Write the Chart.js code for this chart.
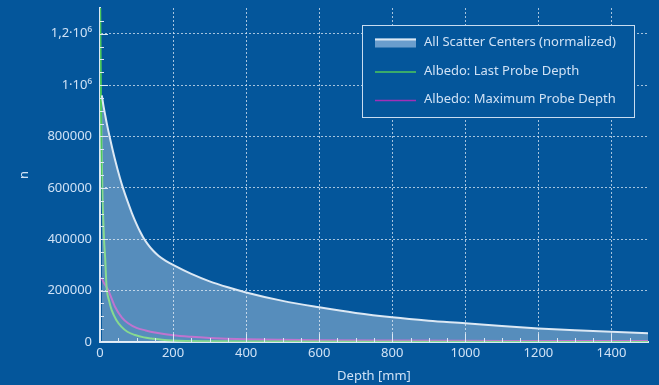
<!DOCTYPE html>
<html lang="en">
<head>
<meta charset="UTF-8">
<title>Depth</title>
<style>
    html, body {
        margin: 0;
        padding: 0;
        background: #04569b;
    }
    .wrap {
        width: 659px;
        height: 385px;
    }
</style>
<script src="https://cdn.jsdelivr.net/npm/chart.js"></script>
</head>
<body>
<div class="wrap"><canvas id="chart" width="659" height="385"></canvas></div>
<script>
// values
const scatterX = [5, 10, 14, 18, 27, 41, 55, 63, 75, 87, 100, 110, 118, 130, 145, 160, 180, 200, 250, 300, 350, 400, 500, 600, 700, 800, 900, 1000, 1100, 1200, 1300, 1400, 1500];
const scatterY = [960000, 915000, 885000, 855000, 795000, 710000, 636000, 599000, 549000, 503000, 459000, 429000, 408000, 382000, 356000, 336000, 316000, 300000, 265000, 236000, 213000, 193000, 160000, 135000, 113000, 96000, 83000, 73000, 62000, 53000, 46000, 40000, 34000];

const lastX = [0, 3, 5, 7, 9, 11, 14, 18, 25, 32, 45, 59, 75, 96, 120, 141, 170, 200, 300, 500, 800, 1500];
const lastY = [1400000, 900000, 700000, 560000, 474000, 400000, 330000, 215000, 160000, 124000, 85000, 59000, 40000, 27000, 18000, 14000, 9000, 6000, 3000, 1500, 800, 300];

const maxX = [2, 5, 10, 23, 41, 60, 77, 100, 125, 150, 200, 250, 300, 400, 500, 600, 800, 1000, 1200, 1500];
const maxY = [250000, 245000, 232000, 200000, 137000, 95000, 73000, 55000, 45000, 37000, 26000, 20000, 16000, 11000, 8500, 7000, 5500, 4500, 4000, 3500];

const xTicks = [0, 200, 400, 600, 800, 1000, 1200, 1400];
const yTicks = [0, 200000, 400000, 600000, 800000, 1000000, 1200000];

const legendLabels = ['All Scatter Centers (normalized)', 'Albedo: Last Probe Depth', 'Albedo: Maximum Probe Depth'];
const seriesColors = ['#dce8f4', '#4cc85a', '#a030b8'];

const textColor = '#cfe1f5';
const fontFamily = '"Noto Sans", "DejaVu Sans", sans-serif';
const fontSize = 13;

function points(xs, ys) {
    return xs.map((x, i) => ({ x: x, y: ys[i] }));
}

function yLabel(v) {
    if (v === 1000000) return '1·10⁶';
    if (v === 1200000) return '1,2·10⁶';
    return String(v);
}

// small inward ticks on both axes, plus the legend box
const decorations = {
    id: 'decorations',
    afterDatasetsDraw(chart) {
        const ctx = chart.ctx;
        const area = chart.chartArea;
        const xs = chart.scales.x;
        const ys = chart.scales.y;
        ctx.save();
        ctx.strokeStyle = '#dce8f4';
        ctx.lineWidth = 1;
        for (let v = 50; v < 1500; v += 50) {
            const px = Math.round(xs.getPixelForValue(v)) + 0.5;
            const len = v % 200 === 0 ? 8 : 4;
            ctx.beginPath();
            ctx.moveTo(px, area.bottom);
            ctx.lineTo(px, area.bottom - len);
            ctx.stroke();
        }
        for (let v = 50000; v < 1300000; v += 50000) {
            const py = Math.round(ys.getPixelForValue(v)) + 0.5;
            const len = v % 200000 === 0 ? 8 : 4;
            ctx.beginPath();
            ctx.moveTo(area.left, py);
            ctx.lineTo(area.left + len, py);
            ctx.stroke();
        }

        // legend
        const bx = 362.5, by = 25.5, bw = 272, bh = 92;
        ctx.fillStyle = '#04569b';
        ctx.fillRect(bx, by, bw, bh);
        ctx.strokeStyle = '#c8dcf0';
        ctx.strokeRect(bx, by, bw, bh);
        ctx.font = fontSize + 'px ' + fontFamily;
        ctx.textBaseline = 'middle';
        ctx.textAlign = 'left';
        const rows = [42.5, 71, 99.5];
        rows.forEach((ry, i) => {
            if (i === 0) {
                ctx.fillStyle = '#6a9dcd';
                ctx.fillRect(375, ry - 4, 41, 9);
                ctx.fillStyle = '#dce8f4';
                ctx.fillRect(375, ry - 4, 41, 2);
            } else {
                ctx.strokeStyle = seriesColors[i];
                ctx.lineWidth = 1.5;
                ctx.beginPath();
                ctx.moveTo(375, ry + 1);
                ctx.lineTo(416, ry + 1);
                ctx.stroke();
            }
            ctx.fillStyle = textColor;
            ctx.fillText(legendLabels[i], 424, ry);
        });
        ctx.restore();
    }
};

const gridColor = (c) => (c.tick && c.tick.value === 0) ? 'rgba(0,0,0,0)' : 'rgba(220,232,244,0.75)';

new Chart(document.getElementById('chart').getContext('2d'), {
    type: 'scatter',
    data: {
        datasets: [
            {
                label: legendLabels[0],
                data: points(scatterX, scatterY),
                showLine: true,
                borderColor: seriesColors[0],
                borderWidth: 2,
                backgroundColor: 'rgba(255,255,255,0.33)',
                fill: 'origin',
                pointRadius: 0,
                cubicInterpolationMode: 'monotone'
            },
            {
                label: legendLabels[1],
                data: points(lastX, lastY),
                showLine: true,
                borderColor: seriesColors[1],
                borderWidth: 2,
                fill: false,
                pointRadius: 0,
                cubicInterpolationMode: 'monotone'
            },
            {
                label: legendLabels[2],
                data: points(maxX, maxY),
                showLine: true,
                borderColor: seriesColors[2],
                borderWidth: 2,
                fill: false,
                pointRadius: 0,
                cubicInterpolationMode: 'monotone'
            }
        ]
    },
    options: {
        responsive: false,
        animation: false,
        layout: { padding: { top: 8, right: 11, left: 0, bottom: 0 } },
        plugins: {
            legend: { display: false },
            tooltip: { enabled: false }
        },
        scales: {
            x: {
                type: 'linear',
                min: 0,
                max: 1500,
                afterBuildTicks: (s) => { s.ticks = xTicks.map(v => ({ value: v })); },
                afterFit: (s) => { s.height = 43; s.paddingLeft = 0; s.paddingRight = 0; },
                ticks: {
                    color: textColor,
                    padding: 3,
                    maxRotation: 0,
                    autoSkip: false,
                    callback: (v) => String(v),
                    font: { family: fontFamily, size: fontSize }
                },
                grid: { color: gridColor, drawTicks: false, lineWidth: 1 },
                border: { color: '#dce8f4', width: 2, dash: [2, 2] },
                title: {
                    display: true,
                    text: 'Depth [mm]',
                    color: textColor,
                    padding: { top: 0, bottom: 1 },
                    font: { family: fontFamily, size: fontSize }
                }
            },
            y: {
                type: 'linear',
                min: 0,
                max: 1300000,
                afterBuildTicks: (s) => { s.ticks = yTicks.map(v => ({ value: v })); },
                afterFit: (s) => { s.width = 100; s.paddingTop = 0; s.paddingBottom = 0; },
                ticks: {
                    color: textColor,
                    padding: 8,
                    autoSkip: false,
                    callback: yLabel,
                    font: { family: fontFamily, size: fontSize }
                },
                grid: { color: gridColor, drawTicks: false, lineWidth: 1 },
                border: { color: '#dce8f4', width: 2, dash: [2, 2] },
                title: {
                    display: true,
                    text: 'n',
                    color: textColor,
                    padding: { top: 16, bottom: 0 },
                    font: { family: fontFamily, size: fontSize }
                }
            }
        }
    },
    plugins: [decorations]
});
</script>
</body>
</html>
